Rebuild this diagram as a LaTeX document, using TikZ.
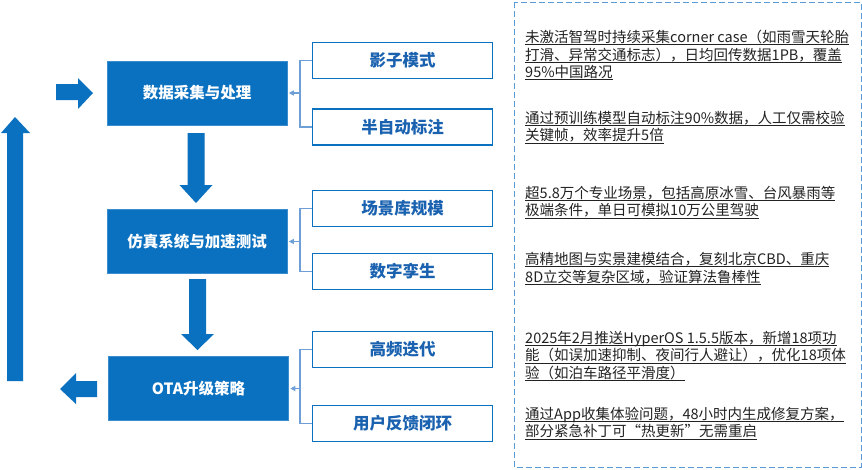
\documentclass[tikz,border=0pt]{standalone}
\usepackage{fontspec}
\setmainfont{Noto Sans CJK SC}
\usetikzlibrary{arrows.meta}
\definecolor{mainblue}{HTML}{0A70C0}
\definecolor{linkblue}{HTML}{6E9FD6}
\definecolor{dashblue}{HTML}{5B9BD5}
\definecolor{subtext}{HTML}{1A62B0}
\definecolor{bodytext}{HTML}{222222}
\newcommand\myul[1]{\setbox0=\hbox{#1}\rlap{\rule[-2.6pt]{\wd0}{0.9pt}}\box0}
\begin{document}
\begin{tikzpicture}[x=1pt,y=-1pt,
 mainbox/.style={fill=mainblue, draw=mainblue!80!white, line width=0.6pt, minimum width=180pt, minimum height=64pt, text=white, font=\fontsize{15.5}{18}\selectfont\bfseries, inner sep=0},
 subbox/.style={draw=mainblue, line width=1.8pt, fill=white, minimum width=180pt, minimum height=36pt, text=subtext, font=\fontsize{16.5}{19}\selectfont\bfseries, inner sep=0},
 blockarrow/.style={fill=mainblue, draw=none},
 link/.style={draw=linkblue, line width=1.1pt},
 linkarrow/.style={link, -{Triangle[length=5pt,width=5pt]}, shorten >=1.5pt},
 note/.style={anchor=north west, align=left, inner sep=0, text=bodytext, font=\fontsize{14.5}{17.5}\selectfont}
]
\useasboundingbox (0,0) rectangle (862,469);
\fill[white] (0,0) rectangle (862,469);

% main boxes
\node[mainbox] (b1) at (197,93) {数据采集与处理};
\node[mainbox] (b2) at (197,241.5) {仿真系统与加速测试};
\node[mainbox] (b3) at (198.5,388.5) {OTA升级策略};

% block arrows
\fill[blockarrow] (187.5,133) -- (204.5,133) -- (204.5,185) -- (212.5,185) -- (196,203) -- (179.5,185) -- (187.5,185) -- cycle;
\fill[blockarrow] (189,279) -- (206,279) -- (206,334) -- (214,334) -- (197.5,350) -- (181,334) -- (189,334) -- cycle;
\fill[blockarrow] (56,84) -- (78,84) -- (78,78) -- (93,93) -- (78,109) -- (78,100) -- (56,100) -- cycle;
\fill[blockarrow] (97,381) -- (76,381) -- (76,373) -- (60,389) -- (76,404) -- (76,397) -- (97,397) -- cycle;
\fill[blockarrow] (7,381) -- (7,133) -- (1,133) -- (15,117) -- (30,133) -- (23,133) -- (23,381) -- cycle;

% sub boxes
\node[subbox] (s1) at (402.5,60.5) {影子模式};
\node[subbox] (s2) at (402.5,127) {半自动标注};
\node[subbox] (s3) at (402.5,208.5) {场景库规模};
\node[subbox] (s4) at (402.5,271.5) {数字孪生};
\node[subbox] (s5) at (402.5,349.5) {高频迭代};
\node[subbox] (s6) at (402.5,423.5) {用户反馈闭环};

% bracket connectors
\coordinate (j1) at (300,93);
\coordinate (j2) at (300,241.5);
\coordinate (j3) at (300,388.5);
\draw[link] (s1.west) -| (j1) |- (s2.west);
\draw[link] (s3.west) -| (j2) |- (s4.west);
\draw[link] (s5.west) -| (j3) |- (s6.west);
\draw[linkarrow] (j1) -- (j1 -| b1.east);
\draw[linkarrow] (j2) -- (j2 -| b2.east);
\draw[linkarrow] (j3) -- (j3 -| b3.east);

% dashed panel
\draw[dashblue, line width=1pt, dash pattern=on 6pt off 3pt] (514,2) rectangle (861,467);

% notes
\node[note] (n1) at (525,30) {\myul{未激活智驾时持续采集corner case（如雨雪天轮胎}\\\myul{打滑、异常交通标志），日均回传数据1PB，覆盖}\\\myul{95\%中国路况}};
\node[note] (n2) at (525,111) {\myul{通过预训练模型自动标注90\%数据，人工仅需校验}\\\myul{关键帧，效率提升5倍}};
\node[note] (n3) at (525,186) {\myul{超5.8万个专业场景，包括高原冰雪、台风暴雨等}\\\myul{极端条件，单日可模拟10万公里驾驶}};
\node[note] (n4) at (525,252) {\myul{高精地图与实景建模结合，复刻北京CBD、重庆}\\\myul{8D立交等复杂区域，验证算法鲁棒性}};
\node[note] (n5) at (525,331) {\myul{2025年2月推送HyperOS 1.5.5版本，新增18项功}\\\myul{能（如误加速抑制、夜间行人避让），优化18项体}\\\myul{验（如泊车路径平滑度）}};
\node[note] (n6) at (525,407) {\myul{通过App收集体验问题，48小时内生成修复方案，}\\\myul{部分紧急补丁可“热更新”无需重启}};
\end{tikzpicture}
\end{document}
